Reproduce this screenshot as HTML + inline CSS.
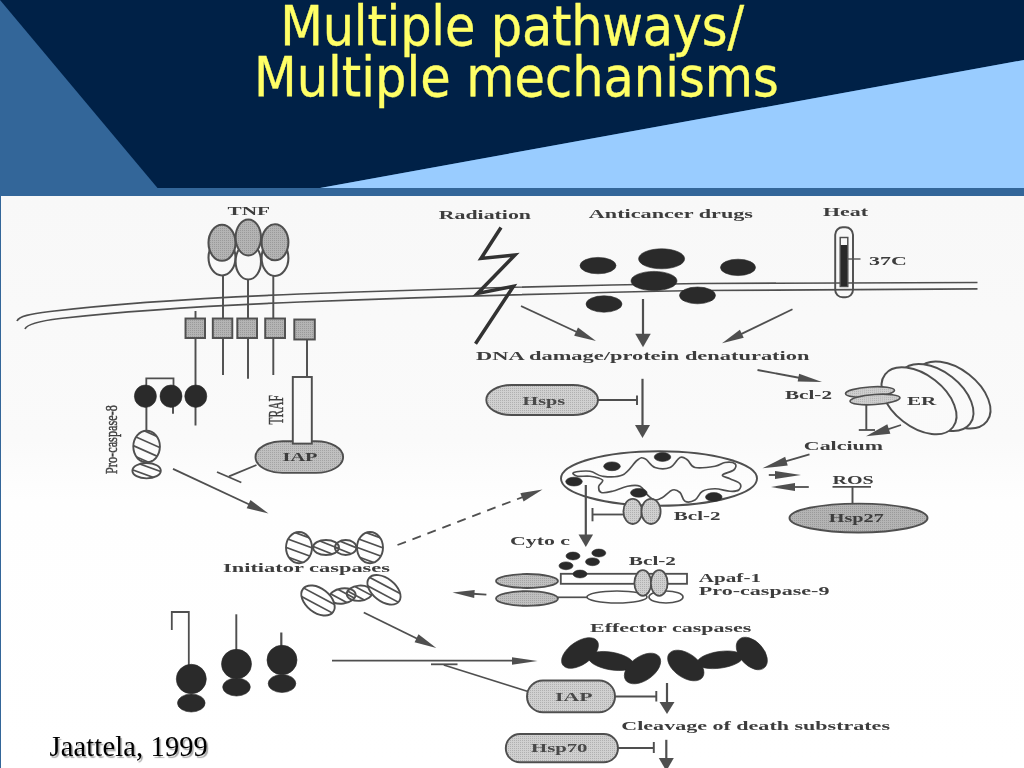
<!DOCTYPE html>
<html lang="en"><head><meta charset="utf-8"><title>Multiple pathways/ Multiple mechanisms</title>
<style>
html,body{margin:0;padding:0;}
body{width:1024px;height:768px;overflow:hidden;position:relative;background:#336699;font-family:"Liberation Sans","DejaVu Sans",sans-serif;}
#bg{position:absolute;left:0;top:0;}
#fig{position:absolute;left:1px;top:196px;width:1023px;height:572px;background:linear-gradient(to bottom,#f8f8f8 0%,#fafafa 42.7%,#fefefe 53.1%,#ffffff 100%);}
#dia{position:absolute;left:0;top:0;font-family:"Liberation Serif","DejaVu Serif",serif;}
h1{position:absolute;margin:0;left:0;top:0;width:1024px;font-weight:normal;color:#ffff66;font-family:"DejaVu Sans Condensed","DejaVu Sans","Liberation Sans",sans-serif;font-stretch:condensed;font-size:55px;line-height:51.4px;text-align:center;}
h1 span{position:absolute;white-space:nowrap;-webkit-text-stroke:0.35px #ffff66;}
#cite{position:absolute;left:49.5px;top:728.5px;letter-spacing:0.17px;margin:0;font-family:"Liberation Serif","DejaVu Serif",serif;font-size:28.4px;line-height:36px;color:#000;text-shadow:1.6px 1.6px 1px #a8a8a8;white-space:nowrap;}
</style></head>
<body>
<svg id="bg" width="1024" height="768" viewBox="0 0 1024 768">
<rect width="1024" height="768" fill="#336699"/>
<polygon points="0,0 1024,0 1024,60 320,188 157.5,188" fill="#002147"/>
<polygon points="1024,60 1024,188 320,188" fill="#99ccff"/>
<rect x="0" y="188" width="1024" height="9" fill="#336699"/>

</svg>
<div id="fig"></div>
<h1><span id="t1" style="left:280.2px;top:0.6px;letter-spacing:-0.2px">Multiple pathways/</span><span id="t2" style="left:254px;top:52.4px">Multiple mechanisms</span></h1>
<svg id="dia" width="1024" height="768" viewBox="0 0 1024 768">
<defs>
<filter id="soft" x="0" y="0" width="1024" height="768" filterUnits="userSpaceOnUse"><feGaussianBlur stdDeviation="0.45"/></filter>
<linearGradient id="paper" gradientUnits="userSpaceOnUse" x1="0" y1="196" x2="0" y2="768"><stop offset="0" stop-color="#f8f8f8"/><stop offset="0.427" stop-color="#fafafa"/><stop offset="0.531" stop-color="#fefefe"/><stop offset="1" stop-color="#ffffff"/></linearGradient>
<pattern id="dots" width="2" height="2" patternUnits="userSpaceOnUse"><rect width="2" height="2" fill="#b4b4b4"/><rect width="1" height="1" fill="#9a9a9a"/></pattern>
<pattern id="dotsM" width="2" height="2" patternUnits="userSpaceOnUse"><rect width="2" height="2" fill="#c0c0c0"/><rect width="1" height="1" fill="#a4a4a4"/></pattern>
<pattern id="dotsL" width="2" height="2" patternUnits="userSpaceOnUse"><rect width="2" height="2" fill="#d0d0d0"/><rect width="1" height="1" fill="#b0b0b0"/></pattern>
</defs>
<g filter="url(#soft)">
<path d="M17,321 C19,316 30,314 50,311.5 C120,303 200,298 300,294 C420,289.5 560,285.5 700,283.5 C800,282.5 900,282.5 977.5,282.5" fill="none" stroke="#505050" stroke-width="1.7"/>
<path d="M25,329 C27,324 40,321 60,318.5 C130,310.5 200,306 300,302 C420,297.5 560,293 700,290.5 C800,289.3 900,288.8 977.5,288.8" fill="none" stroke="#505050" stroke-width="1.7"/>
<text x="227.5" y="215" font-size="11.6" font-weight="bold" fill="#3c3c3c" textLength="42.5" lengthAdjust="spacingAndGlyphs" >TNF</text>
<line x1="223" y1="270" x2="223" y2="375" stroke="#505050" stroke-width="1.95" />
<line x1="248" y1="274" x2="248" y2="378.8" stroke="#505050" stroke-width="1.95" />
<line x1="273.3" y1="270" x2="273.3" y2="375" stroke="#505050" stroke-width="1.95" />
<ellipse cx="222" cy="257.5" rx="13.5" ry="18" fill="url(#paper)" stroke="#505050" stroke-width="2.07" />
<ellipse cx="248.3" cy="261.5" rx="12.7" ry="18" fill="url(#paper)" stroke="#505050" stroke-width="2.07" />
<ellipse cx="275" cy="258" rx="13.4" ry="18" fill="url(#paper)" stroke="#505050" stroke-width="2.07" />
<ellipse cx="222" cy="242.8" rx="13.5" ry="18" fill="url(#dots)" stroke="#505050" stroke-width="2.07" />
<ellipse cx="275" cy="242.3" rx="13.4" ry="18" fill="url(#dots)" stroke="#505050" stroke-width="2.07" />
<ellipse cx="248.3" cy="237.5" rx="12.7" ry="18" fill="url(#dots)" stroke="#505050" stroke-width="2.07" />
<line x1="195.5" y1="311" x2="195.5" y2="425.5" stroke="#505050" stroke-width="1.95" />
<line x1="307" y1="339" x2="307" y2="377" stroke="#505050" stroke-width="1.95" />
<rect x="185.5" y="318.5" width="19.5" height="19.5" rx="0" fill="url(#dots)" stroke="#505050" stroke-width="1.95"/>
<rect x="212.8" y="318.5" width="19.5" height="19.5" rx="0" fill="url(#dots)" stroke="#505050" stroke-width="1.95"/>
<rect x="237.3" y="318.5" width="19.7" height="19.5" rx="0" fill="url(#dots)" stroke="#505050" stroke-width="1.95"/>
<rect x="265.2" y="318.5" width="19.8" height="19.5" rx="0" fill="url(#dots)" stroke="#505050" stroke-width="1.95"/>
<rect x="294.3" y="319.5" width="20.5" height="20" rx="0" fill="url(#dots)" stroke="#505050" stroke-width="1.95"/>
<rect x="255.5" y="441.3" width="87.6" height="31.6" rx="27" ry="15.8" fill="url(#dotsM)" stroke="#505050" stroke-width="1.9"/>
<rect x="292.8" y="377" width="19" height="66.6" rx="0" fill="url(#paper)" stroke="#505050" stroke-width="1.95"/>
<text x="282.5" y="461.3" font-size="11.6" font-weight="bold" fill="#3c3c3c" textLength="35.0" lengthAdjust="spacingAndGlyphs" >IAP</text>
<text transform="translate(283,424.5) rotate(-90)" font-size="20" font-weight="normal" fill="#3c3c3c" stroke="#3c3c3c" stroke-width="0.4" textLength="29.5" lengthAdjust="spacingAndGlyphs">TRAF</text>
<text transform="translate(117,474) rotate(-90)" font-size="17.5" font-weight="normal" fill="#3c3c3c" stroke="#3c3c3c" stroke-width="0.45" textLength="69" lengthAdjust="spacingAndGlyphs">Pro-caspase-8</text>
<line x1="256.5" y1="465" x2="229" y2="476.3" stroke="#505050" stroke-width="1.83" />
<line x1="217" y1="472" x2="241.3" y2="482.5" stroke="#505050" stroke-width="1.83" />
<path d="M146.3,386 V378.3 H173.5 V386" fill="none" stroke="#505050" stroke-width="1.8"/>
<line x1="146.4" y1="405" x2="146.4" y2="431" stroke="#505050" stroke-width="1.95" />
<line x1="173" y1="405" x2="173" y2="413.8" stroke="#505050" stroke-width="1.95" />
<ellipse cx="145.4" cy="396.2" rx="11" ry="11.2" fill="#2a2a2a" stroke="#2a2a2a" stroke-width="0.61" />
<ellipse cx="171" cy="396.2" rx="11" ry="11.2" fill="#2a2a2a" stroke="#2a2a2a" stroke-width="0.61" />
<ellipse cx="195.8" cy="396.2" rx="11" ry="11.2" fill="#2a2a2a" stroke="#2a2a2a" stroke-width="0.61" />
<clipPath id="hc1"><ellipse cx="146.6" cy="446.6" rx="13.3" ry="15.8"/></clipPath>
<ellipse cx="146.6" cy="446.6" rx="13.3" ry="15.8" fill="url(#paper)" stroke="none"/>
<g clip-path="url(#hc1)" stroke="#505050" stroke-width="1.7"><line x1="137.66" y1="417.99" x2="173.84" y2="434.10"/><line x1="134.00" y1="426.21" x2="170.18" y2="442.32"/><line x1="130.34" y1="434.44" x2="166.52" y2="450.54"/><line x1="126.68" y1="442.66" x2="162.86" y2="458.76"/><line x1="123.02" y1="450.88" x2="159.20" y2="466.99"/><line x1="119.36" y1="459.10" x2="155.54" y2="475.21"/><line x1="115.70" y1="467.32" x2="151.88" y2="483.43"/></g>
<ellipse cx="146.6" cy="446.6" rx="13.3" ry="15.8" fill="none" stroke="#505050" stroke-width="1.9"/>
<clipPath id="hc2"><ellipse cx="146.6" cy="470.7" rx="14.2" ry="7.7"/></clipPath>
<ellipse cx="146.6" cy="470.7" rx="14.2" ry="7.7" fill="url(#paper)" stroke="none"/>
<g clip-path="url(#hc2)" stroke="#505050" stroke-width="1.7"><line x1="136.34" y1="445.68" x2="170.54" y2="458.13"/><line x1="133.60" y1="453.20" x2="167.81" y2="465.65"/><line x1="130.87" y1="460.72" x2="165.07" y2="473.17"/><line x1="128.13" y1="468.23" x2="162.33" y2="480.68"/><line x1="125.39" y1="475.75" x2="159.60" y2="488.20"/><line x1="122.66" y1="483.27" x2="156.86" y2="495.72"/><line x1="119.92" y1="490.79" x2="154.13" y2="503.24"/></g>
<ellipse cx="146.6" cy="470.7" rx="14.2" ry="7.7" fill="none" stroke="#505050" stroke-width="1.9"/>
<line x1="173" y1="468.8" x2="250.39" y2="505.02" stroke="#505050" stroke-width="1.83" />
<polygon points="268.50,513.50 246.67,508.25 250.48,500.10" fill="#505050"/>
<text x="438.8" y="219" font-size="11.6" font-weight="bold" fill="#3c3c3c" textLength="92.2" lengthAdjust="spacingAndGlyphs" >Radiation</text>
<polyline points="501,227.5 481,258.5 515,255 477.5,293.5 513.5,286.3 475.5,343.8" fill="none" stroke="#333" stroke-width="3.5" stroke-linejoin="miter"/>
<text x="588.8" y="217.5" font-size="11.6" font-weight="bold" fill="#3c3c3c" textLength="164.2" lengthAdjust="spacingAndGlyphs" >Anticancer drugs</text>
<ellipse cx="598" cy="265.6" rx="18" ry="8.2" fill="#2a2a2a" stroke="#2a2a2a" stroke-width="0.61" />
<ellipse cx="661.6" cy="258.8" rx="23" ry="10" fill="#2a2a2a" stroke="#2a2a2a" stroke-width="0.61" />
<ellipse cx="654" cy="281" rx="23" ry="9.6" fill="#2a2a2a" stroke="#2a2a2a" stroke-width="0.61" />
<ellipse cx="604" cy="304" rx="18" ry="8.2" fill="#2a2a2a" stroke="#2a2a2a" stroke-width="0.61" />
<ellipse cx="697.5" cy="295.4" rx="18" ry="8.4" fill="#2a2a2a" stroke="#2a2a2a" stroke-width="0.61" />
<ellipse cx="738" cy="267.4" rx="17.5" ry="8.2" fill="#2a2a2a" stroke="#2a2a2a" stroke-width="0.61" />
<line x1="521" y1="306" x2="577.88" y2="332.54" stroke="#505050" stroke-width="1.83" />
<polygon points="596.00,341.00 574.16,335.77 577.97,327.62" fill="#505050"/>
<line x1="643" y1="299" x2="643.0" y2="335.8" stroke="#505050" stroke-width="2.2" />
<polygon points="643.00,347.30 635.25,333.80 650.75,333.80" fill="#505050"/>
<line x1="792.5" y1="309.3" x2="740.01" y2="334.61" stroke="#505050" stroke-width="1.83" />
<polygon points="722.00,343.30 739.86,329.69 743.77,337.80" fill="#505050"/>
<text x="476" y="359.5" font-size="11.6" font-weight="bold" fill="#3c3c3c" textLength="333.5" lengthAdjust="spacingAndGlyphs" >DNA damage/protein denaturation</text>
<text x="823" y="216" font-size="11.6" font-weight="bold" fill="#3c3c3c" textLength="45" lengthAdjust="spacingAndGlyphs" >Heat</text>
<rect x="835.2" y="227.3" width="17.8" height="70" rx="7.5" fill="none" stroke="#505050" stroke-width="1.95"/>
<rect x="840.2" y="237.5" width="7.6" height="49" rx="0" fill="url(#paper)" stroke="#505050" stroke-width="1.46"/>
<rect x="840.8" y="245" width="6.4" height="41" rx="0" fill="#2a2a2a" stroke="none" stroke-width="0.0"/>
<line x1="848" y1="259" x2="860.5" y2="259" stroke="#505050" stroke-width="1.34" />
<text x="869" y="265" font-size="11.6" font-weight="bold" fill="#3c3c3c" textLength="37.8" lengthAdjust="spacingAndGlyphs" >37C</text>
<line x1="757.5" y1="370" x2="800.37" y2="377.98" stroke="#505050" stroke-width="1.83" />
<polygon points="822.00,382.00 797.67,381.54 799.14,373.68" fill="#505050"/>
<text x="785" y="399.3" font-size="11.6" font-weight="bold" fill="#3c3c3c" textLength="47" lengthAdjust="spacingAndGlyphs" >Bcl-2</text>
<ellipse cx="953" cy="395" rx="43" ry="26" fill="url(#paper)" stroke="#505050" stroke-width="1.95" transform="rotate(38 953 395)" />
<ellipse cx="936" cy="397.5" rx="43" ry="26" fill="url(#paper)" stroke="#505050" stroke-width="1.95" transform="rotate(38 936 397.5)" />
<ellipse cx="919" cy="400.8" rx="43" ry="26" fill="url(#paper)" stroke="#505050" stroke-width="1.95" transform="rotate(38 919 400.8)" />
<text x="907" y="404.5" font-size="11.6" font-weight="bold" fill="#3c3c3c" textLength="29.3" lengthAdjust="spacingAndGlyphs" >ER</text>
<ellipse cx="870" cy="392" rx="24.5" ry="5" fill="url(#dotsL)" stroke="#505050" stroke-width="1.71" transform="rotate(-4 870 392)" />
<ellipse cx="875" cy="399.5" rx="25" ry="5" fill="url(#dotsL)" stroke="#505050" stroke-width="1.71" transform="rotate(-4 875 399.5)" />
<line x1="866.3" y1="405" x2="866.3" y2="430" stroke="#505050" stroke-width="1.95" />
<line x1="858.8" y1="430" x2="875" y2="430" stroke="#505050" stroke-width="1.83" />
<line x1="901" y1="425" x2="886.94" y2="429.54" stroke="#505050" stroke-width="1.83" />
<polygon points="866.00,436.30 887.30,424.17 890.38,433.68" fill="#505050"/>
<text x="803.8" y="450" font-size="11.6" font-weight="bold" fill="#3c3c3c" textLength="79.2" lengthAdjust="spacingAndGlyphs" >Calcium</text>
<line x1="809.5" y1="454.3" x2="784.54" y2="461.73" stroke="#505050" stroke-width="1.83" />
<polygon points="762.50,468.30 785.17,456.85 787.74,465.48" fill="#505050"/>
<line x1="768.8" y1="475" x2="777.0" y2="475.0" stroke="#505050" stroke-width="1.83" />
<polygon points="801.00,475.00 775.00,479.00 775.00,471.00" fill="#505050"/>
<line x1="808.8" y1="487" x2="793.0" y2="487.0" stroke="#505050" stroke-width="1.83" />
<polygon points="771.00,487.00 795.00,483.00 795.00,491.00" fill="#505050"/>
<text x="832.5" y="483.8" font-size="11.6" font-weight="bold" fill="#3c3c3c" textLength="41.3" lengthAdjust="spacingAndGlyphs" >ROS</text>
<line x1="832.5" y1="486.8" x2="871" y2="486.8" stroke="#505050" stroke-width="1.83" />
<line x1="852.5" y1="486.8" x2="852.5" y2="503" stroke="#505050" stroke-width="1.95" />
<ellipse cx="858.5" cy="518" rx="69" ry="14.4" fill="url(#dots)" stroke="#505050" stroke-width="1.95" />
<text x="828.8" y="521.5" font-size="11.6" font-weight="bold" fill="#3c3c3c" textLength="55.0" lengthAdjust="spacingAndGlyphs" >Hsp27</text>
<rect x="486.3" y="385" width="111.7" height="30" rx="25" ry="15" fill="url(#dotsL)" stroke="#505050" stroke-width="1.9"/>
<text x="522.5" y="405" font-size="11.6" font-weight="bold" fill="#484848" textLength="42.5" lengthAdjust="spacingAndGlyphs" >Hsps</text>
<line x1="598" y1="400" x2="637" y2="400" stroke="#505050" stroke-width="1.83" />
<line x1="637" y1="395.5" x2="637" y2="405" stroke="#505050" stroke-width="1.95" />
<line x1="642.5" y1="378.8" x2="642.5" y2="427.0" stroke="#505050" stroke-width="2.2" />
<polygon points="642.50,438.00 635.00,425.00 650.00,425.00" fill="#505050"/>
<ellipse cx="659" cy="478.5" rx="98" ry="27.3" fill="url(#paper)" stroke="#505050" stroke-width="1.95" />
<path d="M573.75,472.50 C576.04,471.58 584.73,470.56 590.00,471.25 C595.27,471.94 596.54,475.56 602.50,476.25 C608.46,476.94 616.08,477.98 622.50,475.00 C628.92,472.02 633.38,462.98 637.50,460.00 C641.62,457.02 641.79,457.38 645.00,458.75 C648.21,460.12 650.42,465.90 655.00,467.50 C659.58,469.10 665.42,469.33 670.00,467.50 C674.58,465.67 676.79,458.88 680.00,457.50 C683.21,456.12 684.75,458.17 687.50,460.00 C690.25,461.83 689.96,466.35 695.00,467.50 C700.04,468.65 709.50,467.17 715.00,466.25 C720.50,465.33 721.33,462.96 725.00,462.50 C728.67,462.04 733.40,462.38 735.00,463.75 C736.60,465.12 736.04,467.94 733.75,470.00 C731.46,472.06 723.19,473.40 722.50,475.00 C721.81,476.60 726.79,477.15 730.00,478.75 C733.21,480.35 738.40,481.69 740.00,483.75 C741.60,485.81 740.58,488.62 738.75,490.00 C736.92,491.38 734.35,491.48 730.00,491.25 C725.65,491.02 720.04,488.75 715.00,488.75 C709.96,488.75 706.17,489.19 702.50,491.25 C698.83,493.31 698.21,498.17 695.00,500.00 C691.79,501.83 687.75,502.62 685.00,501.25 C682.25,499.88 682.29,494.56 680.00,492.50 C677.71,490.44 675.71,489.08 672.50,490.00 C669.29,490.92 665.71,495.67 662.50,497.50 C659.29,499.33 657.75,500.46 655.00,500.00 C652.25,499.54 650.25,497.52 647.50,495.00 C644.75,492.48 643.67,487.85 640.00,486.25 C636.33,484.65 632.54,485.33 627.50,486.25 C622.46,487.17 617.31,490.10 612.50,491.25 C607.69,492.40 603.77,493.42 601.25,492.50 C598.73,491.58 598.52,488.54 598.75,486.25 C598.98,483.96 604.10,481.83 602.50,480.00 C600.90,478.17 594.58,476.94 590.00,476.25 C585.42,475.56 580.48,476.94 577.50,476.25 C574.52,475.56 571.46,473.42 573.75,472.50Z" fill="none" stroke="#505050" stroke-width="1.7"/>
<ellipse cx="574" cy="481.6" rx="8.3" ry="4.4" fill="#2a2a2a" stroke="#2a2a2a" stroke-width="0.61" />
<ellipse cx="612" cy="466.3" rx="8.3" ry="4.4" fill="#2a2a2a" stroke="#2a2a2a" stroke-width="0.61" />
<ellipse cx="662.5" cy="457" rx="8.3" ry="4.4" fill="#2a2a2a" stroke="#2a2a2a" stroke-width="0.61" />
<ellipse cx="638.8" cy="492.8" rx="8.3" ry="4.4" fill="#2a2a2a" stroke="#2a2a2a" stroke-width="0.61" />
<ellipse cx="713.8" cy="497" rx="8.3" ry="4.4" fill="#2a2a2a" stroke="#2a2a2a" stroke-width="0.61" />
<ellipse cx="632.7" cy="511.4" rx="9.3" ry="12.6" fill="url(#dotsL)" stroke="#505050" stroke-width="1.83" />
<ellipse cx="651" cy="511.4" rx="9.6" ry="12.6" fill="url(#dotsL)" stroke="#505050" stroke-width="1.83" />
<line x1="592.5" y1="514.5" x2="623.5" y2="514.5" stroke="#505050" stroke-width="1.83" />
<line x1="592.5" y1="508" x2="592.5" y2="521.3" stroke="#505050" stroke-width="1.95" />
<text x="673.8" y="520" font-size="11.6" font-weight="bold" fill="#3c3c3c" textLength="46.7" lengthAdjust="spacingAndGlyphs" >Bcl-2</text>
<line x1="585.8" y1="485" x2="585.8" y2="536.5" stroke="#505050" stroke-width="2.2" />
<polygon points="585.80,547.00 578.55,534.50 593.05,534.50" fill="#505050"/>
<text x="510" y="544.5" font-size="11.6" font-weight="bold" fill="#3c3c3c" textLength="60" lengthAdjust="spacingAndGlyphs" >Cyto c</text>
<rect x="560.8" y="573.8" width="126.2" height="10" rx="0" fill="url(#paper)" stroke="#505050" stroke-width="1.83"/>
<ellipse cx="573" cy="556" rx="7" ry="3.9" fill="#2a2a2a" stroke="#2a2a2a" stroke-width="0.61" />
<ellipse cx="598.8" cy="553" rx="7" ry="3.9" fill="#2a2a2a" stroke="#2a2a2a" stroke-width="0.61" />
<ellipse cx="592.5" cy="561.8" rx="7" ry="3.9" fill="#2a2a2a" stroke="#2a2a2a" stroke-width="0.61" />
<ellipse cx="566" cy="565.8" rx="7" ry="3.9" fill="#2a2a2a" stroke="#2a2a2a" stroke-width="0.61" />
<ellipse cx="580" cy="574" rx="7" ry="3.9" fill="#2a2a2a" stroke="#2a2a2a" stroke-width="0.61" />
<text x="628.8" y="565" font-size="11.6" font-weight="bold" fill="#3c3c3c" textLength="47.2" lengthAdjust="spacingAndGlyphs" >Bcl-2</text>
<line x1="397.5" y1="545" x2="523.82" y2="496.65" stroke="#505050" stroke-width="1.83" stroke-dasharray="9 7"/>
<polygon points="542.50,489.50 523.56,501.57 520.35,493.16" fill="#505050"/>
<ellipse cx="527" cy="581" rx="31" ry="7" fill="url(#dotsM)" stroke="#505050" stroke-width="1.83" />
<ellipse cx="527" cy="598.5" rx="31" ry="7.4" fill="url(#dotsM)" stroke="#505050" stroke-width="1.83" />
<line x1="558" y1="597.3" x2="587" y2="597.3" stroke="#505050" stroke-width="1.71" />
<ellipse cx="617" cy="597" rx="30" ry="6" fill="url(#paper)" stroke="#505050" stroke-width="1.71" />
<ellipse cx="666" cy="597" rx="17" ry="6" fill="url(#paper)" stroke="#505050" stroke-width="1.71" />
<ellipse cx="642.8" cy="583" rx="8.4" ry="12.8" fill="url(#dotsL)" stroke="#505050" stroke-width="1.83" />
<ellipse cx="659.2" cy="583" rx="8.4" ry="12.8" fill="url(#dotsL)" stroke="#505050" stroke-width="1.83" />
<text x="698.8" y="581.8" font-size="11.6" font-weight="bold" fill="#3c3c3c" textLength="62.2" lengthAdjust="spacingAndGlyphs" >Apaf-1</text>
<text x="698.8" y="595.3" font-size="11.6" font-weight="bold" fill="#3c3c3c" textLength="130.7" lengthAdjust="spacingAndGlyphs" >Pro-caspase-9</text>
<line x1="486.4" y1="594.7" x2="472.45" y2="593.75" stroke="#505050" stroke-width="1.83" />
<polygon points="452.50,592.40 474.72,589.90 474.18,597.88" fill="#505050"/>
<clipPath id="hc3"><ellipse cx="326" cy="547.5" rx="13" ry="7.5"/></clipPath>
<ellipse cx="326" cy="547.5" rx="13" ry="7.5" fill="none" stroke="none"/>
<g clip-path="url(#hc3)" stroke="#505050" stroke-width="1.7"><line x1="317.26" y1="523.75" x2="348.79" y2="536.48"/><line x1="314.45" y1="530.70" x2="345.98" y2="543.44"/><line x1="311.64" y1="537.65" x2="343.17" y2="550.39"/><line x1="308.83" y1="544.61" x2="340.36" y2="557.35"/><line x1="306.02" y1="551.56" x2="337.55" y2="564.30"/><line x1="303.21" y1="558.52" x2="334.74" y2="571.25"/><line x1="300.40" y1="565.47" x2="331.93" y2="578.21"/></g>
<ellipse cx="326" cy="547.5" rx="13" ry="7.5" fill="none" stroke="#505050" stroke-width="1.9"/>
<clipPath id="hc4"><ellipse cx="345.7" cy="547.5" rx="10.8" ry="7.5"/></clipPath>
<ellipse cx="345.7" cy="547.5" rx="10.8" ry="7.5" fill="none" stroke="none"/>
<g clip-path="url(#hc4)" stroke="#505050" stroke-width="1.7"><line x1="336.19" y1="531.53" x2="363.64" y2="542.61"/><line x1="333.38" y1="538.48" x2="360.83" y2="549.57"/><line x1="330.57" y1="545.43" x2="358.02" y2="556.52"/><line x1="327.76" y1="552.39" x2="355.21" y2="563.47"/><line x1="324.95" y1="559.34" x2="352.40" y2="570.43"/></g>
<ellipse cx="345.7" cy="547.5" rx="10.8" ry="7.5" fill="none" stroke="#505050" stroke-width="1.9"/>
<clipPath id="hc5"><ellipse cx="299" cy="547.6" rx="13" ry="15.6"/></clipPath>
<ellipse cx="299" cy="547.6" rx="13" ry="15.6" fill="url(#paper)" stroke="none"/>
<g clip-path="url(#hc5)" stroke="#505050" stroke-width="1.7"><line x1="287.85" y1="520.93" x2="324.69" y2="534.34"/><line x1="284.94" y1="528.92" x2="321.78" y2="542.32"/><line x1="282.04" y1="536.90" x2="318.87" y2="550.31"/><line x1="279.13" y1="544.89" x2="315.96" y2="558.30"/><line x1="276.22" y1="552.88" x2="313.06" y2="566.28"/><line x1="273.31" y1="560.86" x2="310.15" y2="574.27"/><line x1="270.41" y1="568.85" x2="307.24" y2="582.26"/></g>
<ellipse cx="299" cy="547.6" rx="13" ry="15.6" fill="none" stroke="#505050" stroke-width="1.9"/>
<clipPath id="hc6"><ellipse cx="370" cy="547.6" rx="13" ry="15.6"/></clipPath>
<ellipse cx="370" cy="547.6" rx="13" ry="15.6" fill="url(#paper)" stroke="none"/>
<g clip-path="url(#hc6)" stroke="#505050" stroke-width="1.7"><line x1="358.85" y1="520.93" x2="395.69" y2="534.34"/><line x1="355.94" y1="528.92" x2="392.78" y2="542.32"/><line x1="353.04" y1="536.90" x2="389.87" y2="550.31"/><line x1="350.13" y1="544.89" x2="386.96" y2="558.30"/><line x1="347.22" y1="552.88" x2="384.06" y2="566.28"/><line x1="344.31" y1="560.86" x2="381.15" y2="574.27"/><line x1="341.41" y1="568.85" x2="378.24" y2="582.26"/></g>
<ellipse cx="370" cy="547.6" rx="13" ry="15.6" fill="none" stroke="#505050" stroke-width="1.9"/>
<text x="223" y="572" font-size="11.6" font-weight="bold" fill="#3c3c3c" textLength="167" lengthAdjust="spacingAndGlyphs" >Initiator caspases</text>
<clipPath id="hc7"><ellipse cx="342.5" cy="596" rx="13.2" ry="7.6" transform="rotate(-8 342.5 596)"/></clipPath>
<ellipse cx="342.5" cy="596" rx="13.2" ry="7.6" fill="none" stroke="none" transform="rotate(-8 342.5 596)"/>
<g clip-path="url(#hc7)" stroke="#505050" stroke-width="1.7"><line x1="336.12" y1="571.37" x2="366.49" y2="587.52"/><line x1="332.59" y1="577.99" x2="362.97" y2="594.14"/><line x1="329.07" y1="584.61" x2="359.45" y2="600.76"/><line x1="325.55" y1="591.24" x2="355.93" y2="607.39"/><line x1="322.03" y1="597.86" x2="352.41" y2="614.01"/><line x1="318.51" y1="604.48" x2="348.88" y2="620.63"/><line x1="314.99" y1="611.10" x2="345.36" y2="627.25"/></g>
<ellipse cx="342.5" cy="596" rx="13.2" ry="7.6" fill="none" stroke="#505050" stroke-width="1.9" transform="rotate(-8 342.5 596)"/>
<clipPath id="hc8"><ellipse cx="359.5" cy="593.2" rx="12.8" ry="7.6" transform="rotate(-5 359.5 593.2)"/></clipPath>
<ellipse cx="359.5" cy="593.2" rx="12.8" ry="7.6" fill="none" stroke="none" transform="rotate(-5 359.5 593.2)"/>
<g clip-path="url(#hc8)" stroke="#505050" stroke-width="1.7"><line x1="353.47" y1="568.76" x2="383.14" y2="584.53"/><line x1="349.95" y1="575.38" x2="379.62" y2="591.15"/><line x1="346.43" y1="582.00" x2="376.09" y2="597.78"/><line x1="342.91" y1="588.62" x2="372.57" y2="604.40"/><line x1="339.38" y1="595.25" x2="369.05" y2="611.02"/><line x1="335.86" y1="601.87" x2="365.53" y2="617.64"/><line x1="332.34" y1="608.49" x2="362.01" y2="624.26"/></g>
<ellipse cx="359.5" cy="593.2" rx="12.8" ry="7.6" fill="none" stroke="#505050" stroke-width="1.9" transform="rotate(-5 359.5 593.2)"/>
<clipPath id="hc9"><ellipse cx="318" cy="600.5" rx="19" ry="12" transform="rotate(38 318 600.5)"/></clipPath>
<ellipse cx="318" cy="600.5" rx="19" ry="12" fill="url(#paper)" stroke="none" transform="rotate(38 318 600.5)"/>
<g clip-path="url(#hc9)" stroke="#505050" stroke-width="1.7"><line x1="307.67" y1="570.94" x2="348.28" y2="592.54"/><line x1="303.68" y1="578.44" x2="344.29" y2="600.04"/><line x1="299.69" y1="585.95" x2="340.30" y2="607.55"/><line x1="295.70" y1="593.45" x2="336.31" y2="615.05"/><line x1="291.71" y1="600.96" x2="332.32" y2="622.56"/><line x1="287.72" y1="608.46" x2="328.33" y2="630.06"/><line x1="283.73" y1="615.97" x2="324.34" y2="637.57"/></g>
<ellipse cx="318" cy="600.5" rx="19" ry="12" fill="none" stroke="#505050" stroke-width="1.9" transform="rotate(38 318 600.5)"/>
<clipPath id="hc10"><ellipse cx="384" cy="589.8" rx="19" ry="11.5" transform="rotate(38 384 589.8)"/></clipPath>
<ellipse cx="384" cy="589.8" rx="19" ry="11.5" fill="url(#paper)" stroke="none" transform="rotate(38 384 589.8)"/>
<g clip-path="url(#hc10)" stroke="#505050" stroke-width="1.7"><line x1="373.67" y1="560.24" x2="414.28" y2="581.84"/><line x1="369.68" y1="567.74" x2="410.29" y2="589.34"/><line x1="365.69" y1="575.25" x2="406.30" y2="596.85"/><line x1="361.70" y1="582.75" x2="402.31" y2="604.35"/><line x1="357.71" y1="590.26" x2="398.32" y2="611.86"/><line x1="353.72" y1="597.76" x2="394.33" y2="619.36"/><line x1="349.73" y1="605.27" x2="390.34" y2="626.87"/></g>
<ellipse cx="384" cy="589.8" rx="19" ry="11.5" fill="none" stroke="#505050" stroke-width="1.9" transform="rotate(38 384 589.8)"/>
<line x1="363.8" y1="612.5" x2="418.34" y2="639.2" stroke="#505050" stroke-width="1.83" />
<polygon points="436.30,648.00 414.56,642.37 418.52,634.28" fill="#505050"/>
<path d="M171.8,630 V612 H188.8 V666" fill="none" stroke="#505050" stroke-width="1.8"/>
<line x1="236.3" y1="614.3" x2="236.3" y2="651" stroke="#505050" stroke-width="1.95" />
<line x1="281.3" y1="632.5" x2="281.3" y2="646" stroke="#505050" stroke-width="2.2" />
<ellipse cx="191.3" cy="703" rx="13.8" ry="9" fill="#2a2a2a" stroke="#2a2a2a" stroke-width="0.61" />
<ellipse cx="191.3" cy="679" rx="15" ry="14.7" fill="#2a2a2a" stroke="#2a2a2a" stroke-width="0.61" />
<ellipse cx="236.5" cy="687" rx="13.8" ry="9" fill="#2a2a2a" stroke="#2a2a2a" stroke-width="0.61" />
<ellipse cx="236.5" cy="664" rx="15" ry="14.7" fill="#2a2a2a" stroke="#2a2a2a" stroke-width="0.61" />
<ellipse cx="282" cy="683.5" rx="13.8" ry="9" fill="#2a2a2a" stroke="#2a2a2a" stroke-width="0.61" />
<ellipse cx="282" cy="660" rx="15" ry="14.7" fill="#2a2a2a" stroke="#2a2a2a" stroke-width="0.61" />
<line x1="332" y1="660.7" x2="514" y2="660.7" stroke="#505050" stroke-width="1.83" />
<polygon points="537.5,661 512,657.3 512,664.7" fill="#505050"/>
<line x1="431" y1="664.3" x2="457.5" y2="664.3" stroke="#505050" stroke-width="1.83" />
<line x1="443.8" y1="665" x2="528" y2="691.5" stroke="#505050" stroke-width="1.83" />
<text x="590" y="631.5" font-size="11.6" font-weight="bold" fill="#3c3c3c" textLength="161.3" lengthAdjust="spacingAndGlyphs" >Effector caspases</text>
<ellipse cx="580" cy="653" rx="21" ry="11.5" fill="#2a2a2a" stroke="#2a2a2a" stroke-width="0.61" transform="rotate(-35 580 653)" />
<ellipse cx="611" cy="661" rx="23" ry="8.8" fill="#2a2a2a" stroke="#2a2a2a" stroke-width="0.61" transform="rotate(10 611 661)" />
<ellipse cx="642.5" cy="668.5" rx="20.5" ry="12" fill="#2a2a2a" stroke="#2a2a2a" stroke-width="0.61" transform="rotate(-35 642.5 668.5)" />
<ellipse cx="685.8" cy="665.5" rx="20.5" ry="12" fill="#2a2a2a" stroke="#2a2a2a" stroke-width="0.61" transform="rotate(35 685.8 665.5)" />
<ellipse cx="720" cy="659.8" rx="23" ry="8.3" fill="#2a2a2a" stroke="#2a2a2a" stroke-width="0.61" transform="rotate(-8 720 659.8)" />
<ellipse cx="751.8" cy="653.5" rx="19" ry="12" fill="#2a2a2a" stroke="#2a2a2a" stroke-width="0.61" transform="rotate(48 751.8 653.5)" />
<rect x="527" y="680.5" width="88" height="31.8" rx="16" fill="url(#dotsL)" stroke="#505050" stroke-width="1.95"/>
<text x="555" y="701" font-size="11.6" font-weight="bold" fill="#484848" textLength="37.5" lengthAdjust="spacingAndGlyphs" >IAP</text>
<line x1="615" y1="696.5" x2="656.3" y2="696.5" stroke="#505050" stroke-width="1.83" />
<line x1="656.3" y1="691" x2="656.3" y2="701.5" stroke="#505050" stroke-width="1.95" />
<line x1="667" y1="683" x2="667.0" y2="704.0" stroke="#505050" stroke-width="2.2" />
<polygon points="667.00,714.00 659.50,702.00 674.50,702.00" fill="#505050"/>
<text x="621.3" y="729.8" font-size="11.6" font-weight="bold" fill="#3c3c3c" textLength="268.7" lengthAdjust="spacingAndGlyphs" >Cleavage of death substrates</text>
<rect x="505.8" y="734" width="112.2" height="28.3" rx="14.2" fill="url(#dotsL)" stroke="#505050" stroke-width="1.95"/>
<text x="531" y="752" font-size="11.6" font-weight="bold" fill="#484848" textLength="56.5" lengthAdjust="spacingAndGlyphs" >Hsp70</text>
<line x1="618" y1="748" x2="653.8" y2="748" stroke="#505050" stroke-width="1.83" />
<line x1="653.8" y1="742" x2="653.8" y2="753" stroke="#505050" stroke-width="1.95" />
<line x1="666.3" y1="739.8" x2="666.3" y2="760.0" stroke="#505050" stroke-width="2.2" />
<polygon points="666.30,771.00 658.80,758.00 673.80,758.00" fill="#505050"/>
</g>
</svg>
<p id="cite">Jaattela, 1999</p>
</body></html>
